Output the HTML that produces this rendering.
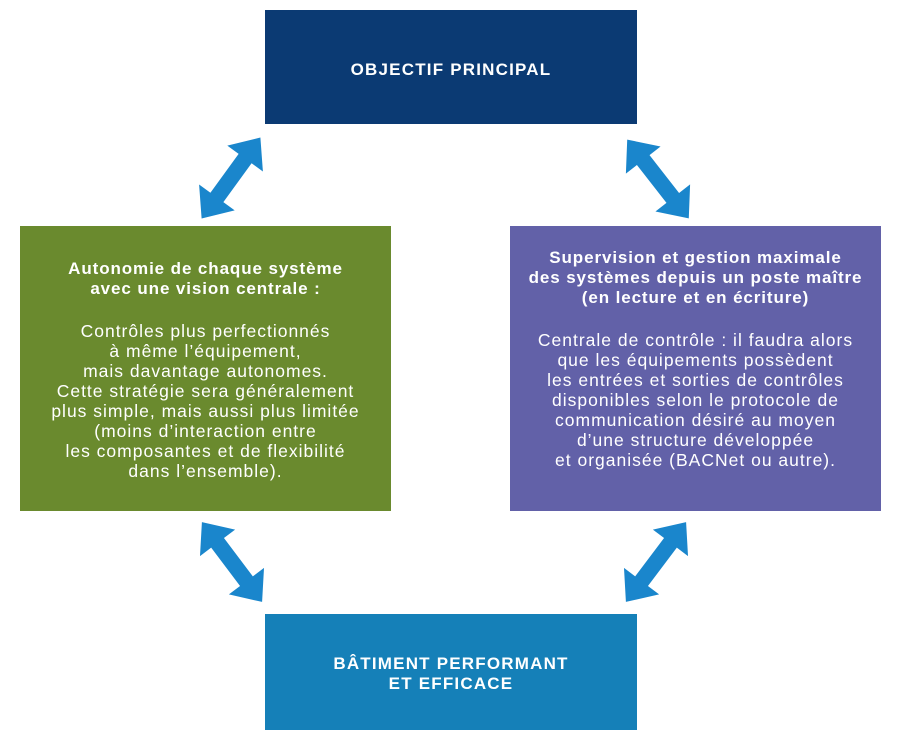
<!DOCTYPE html>
<html><head><meta charset="utf-8"><style>
body{margin:0;width:900px;height:739px;background:#fff;position:relative;overflow:hidden;font-family:"Liberation Sans",sans-serif}
.b{position:absolute;color:#fff;text-align:center}
.l{position:absolute;left:-20px;right:-20px;white-space:nowrap;font-size:17.5px;line-height:20px;letter-spacing:1px}
.t{font-weight:bold;font-size:17px;letter-spacing:0.9px}
.h{font-size:17px;letter-spacing:1.2px}
</style></head><body>
<div class="b" style="left:265px;top:10px;width:372px;height:114px;background:#0b3a73">
<div class="l t h" style="top:50px">OBJECTIF PRINCIPAL</div></div>
<div class="b" style="left:265px;top:614px;width:372px;height:116px;background:#1580b8">
<div class="l t h" style="top:40px">BÂTIMENT PERFORMANT</div>
<div class="l t h" style="top:60px">ET EFFICACE</div></div>
<div class="b" style="left:20px;top:226px;width:371px;height:285px;background:#6a8a2e">
<div class="l t" style="top:33px">Autonomie de chaque système</div>
<div class="l t" style="top:53px">avec une vision centrale :</div>
<div class="l" style="top:95px">Contrôles plus perfectionnés</div>
<div class="l" style="top:115px">à même l’équipement,</div>
<div class="l" style="top:135px">mais davantage autonomes.</div>
<div class="l" style="top:155px">Cette stratégie sera généralement</div>
<div class="l" style="top:175px">plus simple, mais aussi plus limitée</div>
<div class="l" style="top:195px">(moins d’interaction entre</div>
<div class="l" style="top:215px">les composantes et de flexibilité</div>
<div class="l" style="top:235px">dans l’ensemble).</div></div>
<div class="b" style="left:510px;top:226px;width:371px;height:285px;background:#6261a8">
<div class="l t" style="top:22px">Supervision et gestion maximale</div>
<div class="l t" style="top:42px">des systèmes depuis un poste maître</div>
<div class="l t" style="top:62px">(en lecture et en écriture)</div>
<div class="l" style="top:104px">Centrale de contrôle : il faudra alors</div>
<div class="l" style="top:124px">que les équipements possèdent</div>
<div class="l" style="top:144px">les entrées et sorties de contrôles</div>
<div class="l" style="top:164px">disponibles selon le protocole de</div>
<div class="l" style="top:184px">communication désiré au moyen</div>
<div class="l" style="top:204px">d’une structure développée</div>
<div class="l" style="top:224px">et organisée (BACNet ou autre).</div></div>
<svg width="900" height="739" style="position:absolute;left:0;top:0">
<defs><polygon id="a" points="-50,0 -24,-22 -24,-8 24,-8 24,-22 50,0 24,22 24,8 -24,8 -24,22" fill="#1a86cc"/></defs>
<use href="#a" transform="translate(231,178) rotate(-54)"/>
<use href="#a" transform="translate(658,179) rotate(52)"/>
<use href="#a" transform="translate(232,562) rotate(53)"/>
<use href="#a" transform="translate(656,562) rotate(-53)"/>
</svg>
</body></html>
